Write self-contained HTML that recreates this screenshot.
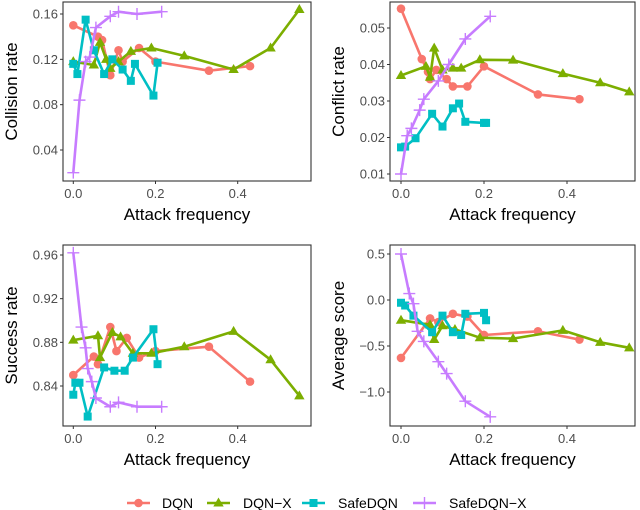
<!DOCTYPE html>
<html><head><meta charset="utf-8"><style>
body{margin:0;background:#fff;}
svg{display:block;font-family:"Liberation Sans",sans-serif;}
</style></head><body>
<svg id="chart" width="640" height="510" xmlns="http://www.w3.org/2000/svg"></svg>
<script>
const seriesNames=["DQN","DQN-X","SafeDQN","SafeDQN-X"];
const colors=["#F8766D","#7CAE00","#00BFC4","#C77CFF"];
// Collision rate
const colX=[[0,0.06,0.07,0.09,0.11,0.12,0.16,0.2,0.33,0.43],[0,0.05,0.065,0.08,0.09,0.11,0.14,0.19,0.27,0.39,0.48,0.55],[0,0.01,0.03,0.05,0.075,0.095,0.12,0.14,0.15,0.195,0.205],[0,0.015,0.03,0.04,0.055,0.09,0.11,0.155,0.215]];
const colY=[[0.150,0.140,0.137,0.106,0.128,0.118,0.130,0.118,0.110,0.114],[0.118,0.115,0.135,0.120,0.112,0.118,0.127,0.130,0.123,0.111,0.130,0.164],[0.116,0.107,0.155,0.128,0.107,0.120,0.111,0.101,0.116,0.088,0.117],[0.020,0.084,0.118,0.122,0.148,0.158,0.162,0.160,0.162]];
// Conflict rate
const conX=[[0,0.05,0.065,0.07,0.085,0.11,0.125,0.16,0.2,0.33,0.43],[0,0.06,0.07,0.08,0.1,0.125,0.145,0.19,0.27,0.39,0.48,0.55],[0,0.01,0.035,0.075,0.1,0.125,0.14,0.155,0.2,0.205],[0,0.015,0.025,0.045,0.055,0.09,0.115,0.155,0.215]];
const conY=[[0.0553,0.0415,0.038,0.036,0.0385,0.036,0.034,0.034,0.0395,0.0318,0.0305],[0.037,0.0395,0.0365,0.0445,0.0385,0.039,0.039,0.0413,0.0412,0.0375,0.035,0.0325],[0.0173,0.0175,0.0198,0.0265,0.023,0.028,0.0293,0.0243,0.024,0.024],[0.010,0.0205,0.0225,0.0275,0.0305,0.0355,0.040,0.047,0.0532]];
// Success rate
const sucX=[[0,0.05,0.06,0.09,0.105,0.13,0.16,0.2,0.33,0.43],[0,0.06,0.065,0.095,0.115,0.145,0.19,0.27,0.39,0.48,0.55],[0,0.005,0.015,0.035,0.075,0.1,0.125,0.145,0.195,0.205],[0,0.02,0.03,0.035,0.045,0.055,0.09,0.11,0.155,0.215]];
const sucY=[[0.850,0.867,0.860,0.894,0.872,0.884,0.866,0.872,0.876,0.844],[0.882,0.886,0.866,0.889,0.885,0.870,0.870,0.876,0.890,0.864,0.831],[0.832,0.843,0.843,0.812,0.857,0.854,0.854,0.866,0.892,0.860],[0.962,0.894,0.875,0.856,0.844,0.829,0.821,0.825,0.821,0.821]];
// Average score
const avgX=[[0,0.07,0.09,0.125,0.16,0.2,0.33,0.43],[0,0.07,0.08,0.1,0.13,0.19,0.27,0.39,0.48,0.55],[0,0.01,0.03,0.075,0.1,0.125,0.145,0.155,0.2,0.205],[0,0.02,0.03,0.04,0.055,0.09,0.11,0.155,0.215]];
const avgY=[[-0.63,-0.20,-0.24,-0.15,-0.18,-0.38,-0.34,-0.43],[-0.22,-0.27,-0.43,-0.28,-0.32,-0.41,-0.42,-0.33,-0.46,-0.52],[-0.03,-0.06,-0.17,-0.35,-0.17,-0.35,-0.38,-0.15,-0.14,-0.22],[0.50,0.07,-0.04,-0.34,-0.45,-0.67,-0.80,-1.10,-1.27]];
const xTicks=[0,0.2,0.4];
const xTickLabels=["0.0","0.2","0.4"];
const colTicks=[0.04,0.08,0.12,0.16], colTickLabels=["0.04","0.08","0.12","0.16"];
const conTicks=[0.01,0.02,0.03,0.04,0.05], conTickLabels=["0.01","0.02","0.03","0.04","0.05"];
const sucTicks=[0.84,0.88,0.92,0.96], sucTickLabels=["0.84","0.88","0.92","0.96"];
const avgTicks=[-1,-0.5,0,0.5], avgTickLabels=["\u22121.0","\u22120.5","0.0","0.5"];

const svg=document.getElementById('chart');
const NS="http://www.w3.org/2000/svg";
function mk(tag,attrs,parent){const e=document.createElementNS(NS,tag);for(const k in attrs)e.setAttribute(k,attrs[k]);(parent||svg).appendChild(e);return e;}
function marker(g,k,x,y,c){
  let e;
  if(k===0){e=mk('circle',{cx:x,cy:y,r:4.3,fill:c},g);}
  else if(k===1){e=mk('polygon',{points:`${x},${y-5.5} ${x+5.2},${y+3.5} ${x-5.2},${y+3.5}`,fill:c},g);}
  else if(k===2){e=mk('rect',{x:x-4,y:y-4,width:8,height:8,fill:c},g);}
  else {e=mk('path',{d:`M${x-6},${y}H${x+6}M${x},${y-6}V${y+6}`,stroke:c,'stroke-width':1.4,fill:'none'},g);}
  
  
}
function panel(name,L,R,T,B,x0px,xPerUnit,yA,yApx,yB,yBpx,X,Y,yt,ytl,title){
  const g=mk('g',{});
  
  
  const sx=v=>x0px+v*xPerUnit;
  const sy=v=>yApx+(v-yA)*(yBpx-yApx)/(yB-yA);
  const clip=mk('clipPath',{id:'c'+name},g);mk('rect',{x:L,y:T,width:R-L,height:B-T},clip);
  const pg=mk('g',{'clip-path':`url(#c${name})`},g);
  for(let s=0;s<4;s++){
    const pts=X[s].map((v,i)=>sx(v).toFixed(1)+','+sy(Y[s][i]).toFixed(1)).join(' ');
    const l=mk('polyline',{points:pts,fill:'none',stroke:colors[s],'stroke-width':2.6,'stroke-linejoin':'round'},pg);
    
    
    X[s].forEach((v,i)=>marker(pg,s,sx(v),sy(Y[s][i]),colors[s]));
  }
  const fr=mk('rect',{x:L,y:T,width:R-L,height:B-T,fill:'none',stroke:'#333','stroke-width':1.1},g);
  
  
  xTicks.forEach((v,i)=>{const x=sx(v);mk('line',{x1:x,x2:x,y1:B,y2:B+3,stroke:'#333'},g);
    const t=mk('text',{x:x,y:B+17,'text-anchor':'middle','font-size':13,fill:'#4d4d4d'},g);t.textContent=xTickLabels[i];
    });
  yt.forEach((v,i)=>{const y=sy(v);mk('line',{x1:L-3,x2:L,y1:y,y2:y,stroke:'#333'},g);
    const t=mk('text',{x:L-5,y:y+4.5,'text-anchor':'end','font-size':13,fill:'#4d4d4d'},g);t.textContent=ytl[i];
    });
  const xt=mk('text',{x:(L+R)/2,y:B+39,'text-anchor':'middle','font-size':17,fill:'#000'},g);xt.textContent='Attack frequency';
  
  const cy=(T+B)/2, cx=L-46;
  const ytt=mk('text',{x:cx,y:cy,'text-anchor':'middle','font-size':17,fill:'#000',transform:`rotate(-90 ${cx} ${cy})`},g);ytt.textContent=title;
  
}
panel('collision-panel',63,311,2,181,73.3,411,0.16,14,0.04,150,colX,colY,colTicks,colTickLabels,'Collision rate');
panel('conflict-panel',390,635,2,181,401,415,0.05,28,0.01,174,conX,conY,conTicks,conTickLabels,'Conflict rate');
panel('success-panel',63,311,245,426,73.3,411,0.96,255,0.84,386,sucX,sucY,sucTicks,sucTickLabels,'Success rate');
panel('score-panel',390,635,245,426,401,415,0.5,254,-1.0,392,avgX,avgY,avgTicks,avgTickLabels,'Average score');
// legend
const lg=mk('g',{});


const keyX=[127,207,302,413], txtX=[162,243,338,449];
for(let s=0;s<4;s++){
  const e=mk('g',{},lg);
  
  
  mk('line',{x1:keyX[s],x2:keyX[s]+23,y1:503,y2:503,stroke:colors[s],'stroke-width':2.6},e);
  marker(e,s,keyX[s]+11.5,503,colors[s]);
  const t=mk('text',{x:txtX[s],y:508,'font-size':14,fill:'#000'},e);t.textContent=seriesNames[s].replace('-','\u2212');
}
</script>
</body></html>
